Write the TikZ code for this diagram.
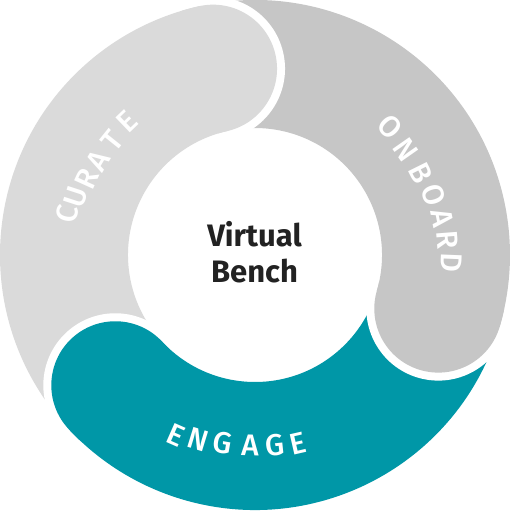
\documentclass[tikz,border=0pt]{standalone}
\usepackage{fontspec}
\setmainfont{Fira Sans}
\newfontfamily\ringfont{Fira Sans Medium}
\usetikzlibrary{calc}
\definecolor{curate}{HTML}{DADADA}
\definecolor{onboard}{HTML}{C6C6C6}
\definecolor{engage}{HTML}{0097A7}
\definecolor{ink}{HTML}{222222}
% ring sector between radius 127 and 255, from angle #2 to #3
\newcommand\ringsector[3]{\fill[#1] ({#2}:255) arc[start angle=#2, end angle=#3, radius=255] -- ({#3}:127) arc[start angle=#3, end angle=#2, radius=127] -- cycle;}
% rounded leading end with white border, at angle #2
\newcommand\ringcap[2]{%
  \fill[white] ({#2}:263) arc[start angle=#2, end angle=#2-180, radius=72] -- cycle;
  \fill[#1] ({#2+4}:255) arc[start angle=#2+4, end angle=#2, radius=255]
     arc[start angle=#2, end angle=#2-180, radius=64]
     arc[start angle=#2, end angle=#2+4, radius=127] -- cycle;}
\tikzset{
  ringtxt/.style={text=white, font=\ringfont\fontsize{30}{30}\selectfont, inner sep=0pt},
  centertxt/.style={text=ink, font=\bfseries\fontsize{31}{31}\selectfont, inner sep=0pt, anchor=base}
}
\begin{document}
\begin{tikzpicture}[x=1pt,y=1pt]
\useasboundingbox (-255,-256) rectangle (256,255);
% bodies
\ringsector{curate}{223}{101.7}
\ringsector{onboard}{102.7}{-17.3}
\ringsector{engage}{-16.3}{-138}
% caps
\ringcap{curate}{102.7}
\ringcap{onboard}{-16.3}
\ringcap{engage}{223}
% ring labels
\foreach \l/\a/\r [count=\i] in {C/167.5/192, U/161.9/188, R/155.6/185, A/149.1/183, T/141.3/183, E/133.9/185}
  \node[ringtxt, rotate=\a-90] (cur\i) at (\a:\r) {\l};
\foreach \l/\a/\r [count=\i] in {O/43.5/186, N/35/184, B/26.4/185, O/18.6/188, A/11.2/190.6, R/4.4/193.6, D/-2.3/197}
  \node[ringtxt, rotate=\a-90] (onb\i) at (\a:\r) {\l};
\foreach \l/\a/\r [count=\i] in {E/246.2/197, N/252.9/193.6, G/260.3/191, A/268.5/190, G/276/191, E/282.9/193}
  \node[ringtxt, rotate=\a+90] (eng\i) at (\a:\r) {\l};
% center
\node[centertxt] (virt) at (-0.5,8.3) {Virtual};
\node[centertxt] (bench) at (-0.5,-28) {Bench};
\end{tikzpicture}
\end{document}
